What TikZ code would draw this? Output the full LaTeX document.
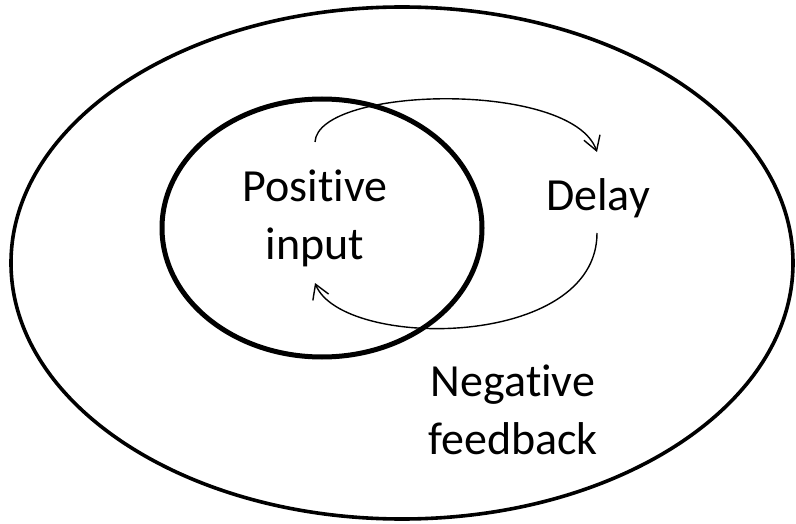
\documentclass[tikz,border=0pt]{standalone}
\usepackage{fontspec}
\setmainfont{Carlito}[Ligatures={NoCommon,NoContextual}]
\usetikzlibrary{arrows.meta,positioning}

\begin{document}
\begin{tikzpicture}[x=1pt, y=-1pt,
  lbl/.style={align=center, font=\fontsize{46}{58}\selectfont, inner sep=0pt},
  ring/.style={draw, line width=#1},
  loopline/.style={line width=1.4pt, -{Straight Barb[length=14pt, width=17pt]}}]
\useasboundingbox (0,0) rectangle (796,524);
\draw[ring=3.6pt] (402,263) ellipse [x radius=391, y radius=256];
\draw[ring=5pt] (322,228) ellipse [x radius=160, y radius=129];
\node[lbl] (pos) at (315,218) {Positive\\input};
\node[lbl] (del) at (598,198) {Delay};
\node[lbl] (neg) at (513,410) {Negative\\feedback};
\coordinate (a0) at (315,142); \coordinate (a1) at (597,152);
\coordinate (b0) at (597,233); \coordinate (b1) at (315,283);
\draw[loopline] (a0) .. controls (318,86) and (572,80) .. (a1);
\draw[loopline] (b0) .. controls (597,350) and (342,350) .. (b1);
\end{tikzpicture}
\end{document}
